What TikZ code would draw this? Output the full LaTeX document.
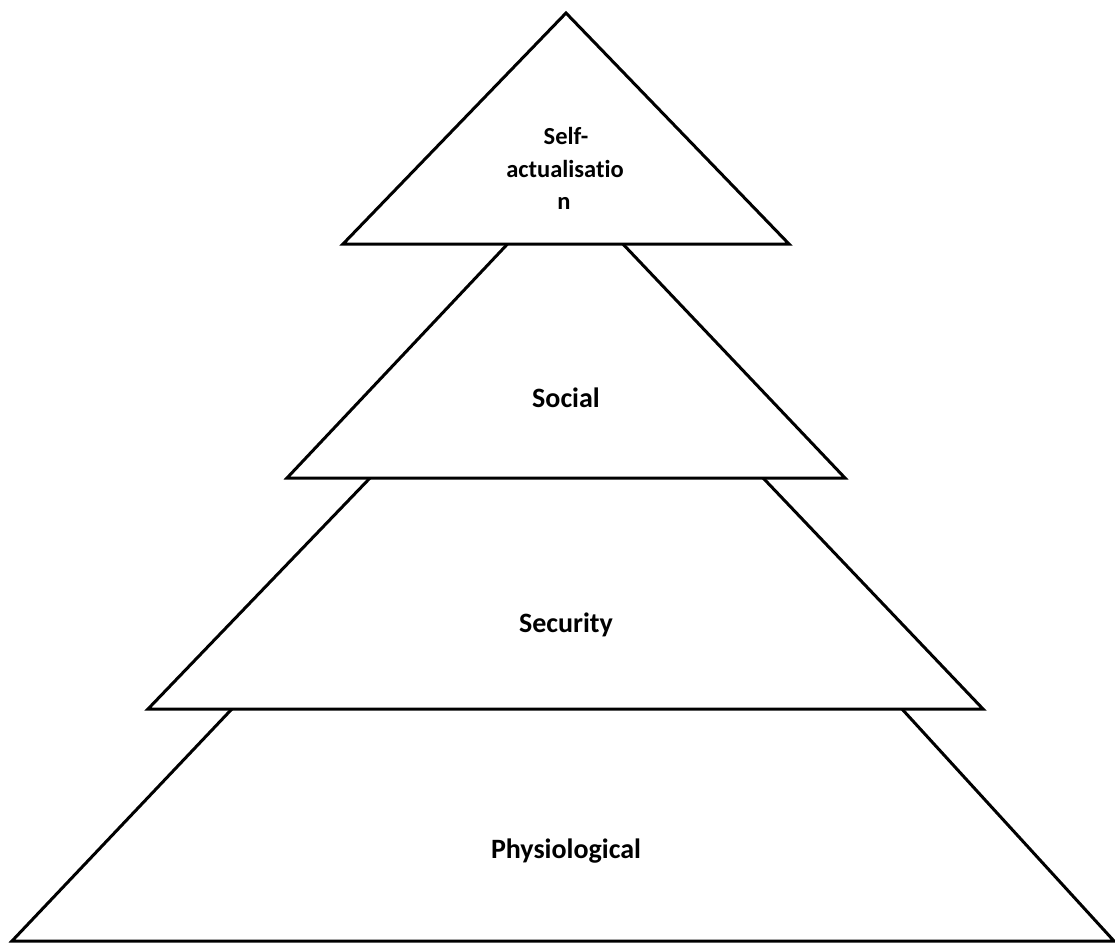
\documentclass[tikz,border=0pt]{standalone}
\usepackage{fontspec}
\setmainfont{Carlito}[Ligatures=NoCommon]
\begin{document}
\begin{tikzpicture}[x=1pt,y=-1pt,
  level/.style={draw=black,fill=white,line width=3pt,line join=miter},
  lbl/.style={anchor=base,inner sep=0pt,font=\bfseries\fontsize{28}{34}\selectfont},
  toplbl/.style={anchor=base,inner sep=0pt,font=\bfseries\fontsize{24.5}{32.5}\selectfont}]
\useasboundingbox (0,0) rectangle (1115,943);
% pyramid levels, drawn from the base upwards so each upper one overlaps the one below
\draw[level] (12,941) -- (573,349) -- (1114,941) -- cycle;
\draw[level] (148,709) -- (567.5,272.5) -- (983,709) -- cycle;
\draw[level] (287,478) -- (565,183) -- (845,478) -- cycle;
\draw[level] (343,244) -- (566,13) -- (789,244) -- cycle;
% labels
\node[lbl] (phys) at (566,858) {Physiological};
\node[lbl] (sec) at (566,632) {Security};
\node[lbl] (soc) at (566,407) {Social};
\node[toplbl] (self1) at (566,144) {Self-};
\node[toplbl] (self2) at (565,177) {actualisatio};
\node[toplbl] (self3) at (564,209) {n};
\end{tikzpicture}
\end{document}
